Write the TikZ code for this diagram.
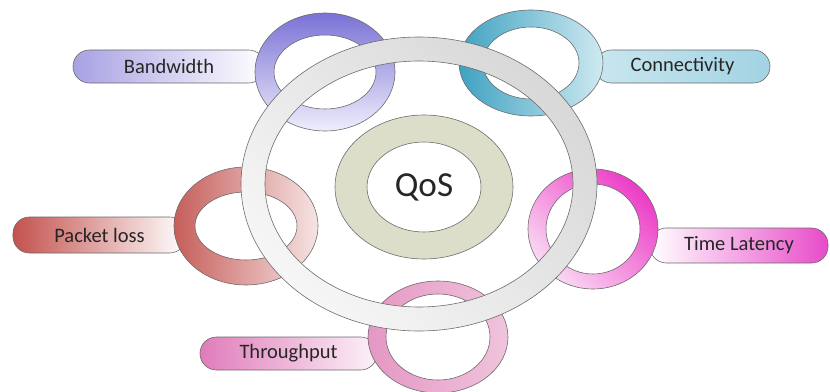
\documentclass[tikz,border=0pt]{standalone}
\usepackage{fontspec}
\setsansfont{Carlito}
\usepackage{tikz}
\usetikzlibrary{positioning}
\definecolor{ringline}{HTML}{6A6A6A}
\definecolor{textgrey}{HTML}{262626}
\definecolor{bwpurple}{HTML}{7A72D6}
\definecolor{bwpale}{HTML}{EFEEFB}
\definecolor{bwpill}{HTML}{A7A2E3}
\definecolor{conteal}{HTML}{3FA2C2}
\definecolor{conpale}{HTML}{CFE9F1}
\definecolor{conpillA}{HTML}{C9E6EF}
\definecolor{conpillB}{HTML}{E9F5F9}
\definecolor{conpillC}{HTML}{A2D3E3}
\definecolor{plred}{HTML}{C65E5A}
\definecolor{plpale}{HTML}{F6E4E4}
\definecolor{plpill}{HTML}{C4524E}
\definecolor{tlmag}{HTML}{EC3CC6}
\definecolor{tlpale}{HTML}{FADAF3}
\definecolor{tlpill}{HTML}{E84BC9}
\definecolor{tppink}{HTML}{E597C4}
\definecolor{tppale}{HTML}{F0C4DC}
\definecolor{tppill}{HTML}{E07CBA}
\definecolor{bigdark}{HTML}{D8D8D8}
\definecolor{biglight}{HTML}{F6F6F6}
\definecolor{qosring}{HTML}{DCDEC9}

\begin{document}
\begin{tikzpicture}[
  x=0.03cm,y=-0.03cm,
  font=\sffamily,
  pill/.style={rectangle,rounded corners=14pt,draw=ringline,line width=0.5pt,minimum height=0.99cm,inner sep=1pt,text=textgrey,font=\sffamily\fontsize{17.5}{20}\selectfont},
  ring/.style={draw=ringline,line width=0.5pt,even odd rule},
  hublabel/.style={font=\sffamily\fontsize{30}{34}\selectfont,text=black!85},
]
\useasboundingbox (0,0) rectangle (830,392);

% Ring centres
\coordinate (bw)  at (325,72);
\coordinate (con) at (531,63);
\coordinate (pl)  at (246,226);
\coordinate (tl)  at (593,229);
\coordinate (tp)  at (438,337);
\coordinate (hub) at (419,184);

% Label pills (under the rings)
\node[pill,minimum width=5.76cm,left color=bwpill,right color=white] (bwlabel) at (169,66.5) {Bandwidth};
\node[pill,minimum width=5.25cm,left color=conpillA,middle color=conpillB,right color=conpillC] (conlabel) at (682.5,66.5) {Connectivity};
\node[pill,minimum width=5.19cm,minimum height=1.08cm,left color=plpill,right color=white] (pllabel) at (99.5,235) {Packet loss};
\node[pill,minimum width=5.34cm,minimum height=1.05cm,left color=white,right color=tlpill] (tllabel) at (739,245.5) {Time Latency};
\node[pill,minimum width=5.31cm,left color=tppill,right color=white!90!tppill] (tplabel) at (288.5,353.5) {Throughput};

% Small rings
\path[ring,top color=bwpurple,bottom color=bwpale] (bw) ellipse [x radius=70,y radius=59] (bw) ellipse [x radius=51,y radius=37];
\path[ring,left color=conteal,right color=conpale] (con) ellipse [x radius=72,y radius=53] (con) ellipse [x radius=48,y radius=36];
\path[ring,left color=plred,right color=plpale] (pl) ellipse [x radius=72,y radius=59] (pl) ellipse [x radius=51,y radius=34];
\path[ring,top color=tlmag,bottom color=tlpale,shading angle=-45] (tl) ellipse [x radius=65,y radius=60] (tl) ellipse [x radius=47,y radius=45];
\path[ring,left color=tppink,right color=tppale] (tp) ellipse [x radius=70,y radius=56] (tp) ellipse [x radius=52,y radius=43];

% QoS hub
\path[ring,fill=qosring] (424,187) ellipse [x radius=89,y radius=72] (424,187) ellipse [x radius=57,y radius=45];
\node[hublabel] (qos) at (424,187) {QoS};

% Big grey ring on top
\path[ring,top color=bigdark,bottom color=biglight,shading angle=-45] (hub) ellipse [x radius=178,y radius=147] (hub) ellipse [x radius=154,y radius=123];
\end{tikzpicture}
\end{document}
